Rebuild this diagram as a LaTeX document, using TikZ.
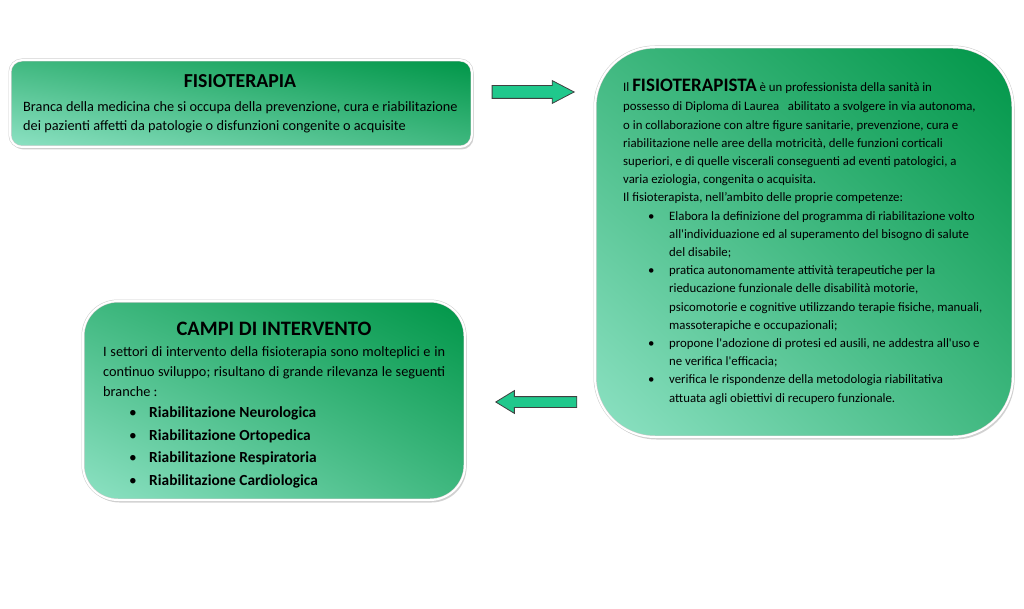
\documentclass[tikz,border=0pt]{standalone}
\usepackage{fontspec}
\setmainfont{Carlito}
\usetikzlibrary{positioning,shadows,shadings,shapes.arrows}
\definecolor{boxdark}{RGB}{0,150,72}
\definecolor{boxlight}{RGB}{142,226,196}
\definecolor{arrowgreen}{RGB}{32,200,140}
\newcommand{\itemdot}[1]{\makebox[#1][l]{\mdseries\textbullet}}
\begin{document}
\begin{tikzpicture}
    [x=1pt,y=-1pt,
    panel/.style={rectangle,draw=black!20,double=white,double distance=2pt,
      line width=.5pt,
      upper right=boxdark,lower left=boxlight,
      upper left=boxdark!55!boxlight,lower right=boxdark!55!boxlight,
      drop shadow={shadow xshift=1.5pt,shadow yshift=-2.5pt,opacity=.35}},
    blockarrow/.style={single arrow,draw=black!75,line width=.8pt,
      fill=arrowgreen,inner xsep=0pt},
    txt/.style={inner sep=0pt,anchor=base west,align=left}]
    \useasboundingbox[fill=white] (0,0) rectangle (1024,609);
    % boxes
    \node[panel,rounded corners=12pt,minimum width=462pt,minimum height=87pt]
      (fisio) at (241,103.5) {};
    \node[panel,rounded corners=60pt,minimum width=418pt,minimum height=390pt]
      (fisiota) at (804,242) {};
    \node[panel,rounded corners=35pt,minimum width=382pt,minimum height=199pt]
      (campi) at (274,400.5) {};
    % arrows
    \node[blockarrow,inner ysep=6pt,minimum height=82pt,minimum width=22pt,
      single arrow head extend=5pt,single arrow tip angle=55,anchor=tip]
      (toright) at (575,92) {};
    \node[blockarrow,inner ysep=5pt,shape border rotate=180,minimum height=81pt,
      minimum width=22pt,single arrow head extend=6pt,single arrow tip angle=63,
      anchor=tip] (toleft) at (495,402) {};
    % upper left box
    \node[anchor=base,font=\fontsize{19.8}{22}\selectfont\bfseries]
      (fisiotitle) at (240,88) {FISIOTERAPIA};
    \node[txt,font=\fontsize{14.3}{19}\selectfont] (fisiotext) at (23,131)
      {Branca della medicina che si occupa della prevenzione, cura e riabilitazione\\
      dei pazienti affetti da patologie o disfunzioni congenite o acquisite};
    % right box
    \node[txt,font=\fontsize{12.8}{18.2}\selectfont] (fisiotatext) at (623,402)
      {Il {\fontsize{19}{20}\selectfont\bfseries FISIOTERAPISTA} è un professionista della sanità in\\[1.5pt]
      possesso di Diploma di Laurea\ \ \ abilitato a svolgere in via autonoma,\\
      o in collaborazione con altre figure sanitarie, prevenzione, cura e\\
      riabilitazione nelle aree della motricità, delle funzioni corticali\\
      superiori, e di quelle viscerali conseguenti ad eventi patologici, a\\
      varia eziologia, congenita o acquisita.\\
      Il fisioterapista, nell’ambito delle proprie competenze:\\
      \hspace*{25pt}\itemdot{21pt}Elabora la definizione del programma di riabilitazione volto\\
      \hspace*{46pt}all\textquotesingle individuazione ed al superamento del bisogno di salute\\
      \hspace*{46pt}del disabile;\\
      \hspace*{25pt}\itemdot{21pt}pratica autonomamente attività terapeutiche per la\\
      \hspace*{46pt}rieducazione funzionale delle disabilità motorie,\\
      \hspace*{46pt}psicomotorie e cognitive utilizzando terapie fisiche, manuali,\\
      \hspace*{46pt}massoterapiche e occupazionali;\\
      \hspace*{25pt}\itemdot{21pt}propone l\textquotesingle adozione di protesi ed ausili, ne addestra all\textquotesingle uso e\\
      \hspace*{46pt}ne verifica l\textquotesingle efficacia;\\
      \hspace*{25pt}\itemdot{21pt}verifica le rispondenze della metodologia riabilitativa\\
      \hspace*{46pt}attuata agli obiettivi di recupero funzionale.};
    % lower left box
    \node[anchor=base,font=\fontsize{20.5}{22}\selectfont\bfseries]
      (campititle) at (274,335) {CAMPI DI INTERVENTO};
    \node[txt,font=\fontsize{14.3}{20}\selectfont] (campitext) at (103,396)
      {\makebox[342pt][s]{I settori di intervento della fisioterapia sono molteplici e in}\\
      \makebox[342pt][s]{continuo sviluppo; risultano di grande rilevanza le seguenti}\\
      branche :};
    \node[txt,font=\fontsize{15.4}{22.5}\selectfont\bfseries] (campilist) at (129,485)
      {\itemdot{20pt}Riabilitazione Neurologica\\
      \itemdot{20pt}Riabilitazione Ortopedica\\
      \itemdot{20pt}Riabilitazione Respiratoria\\
      \itemdot{20pt}Riabilitazione Cardiologica};
  \end{tikzpicture}
\end{document}
